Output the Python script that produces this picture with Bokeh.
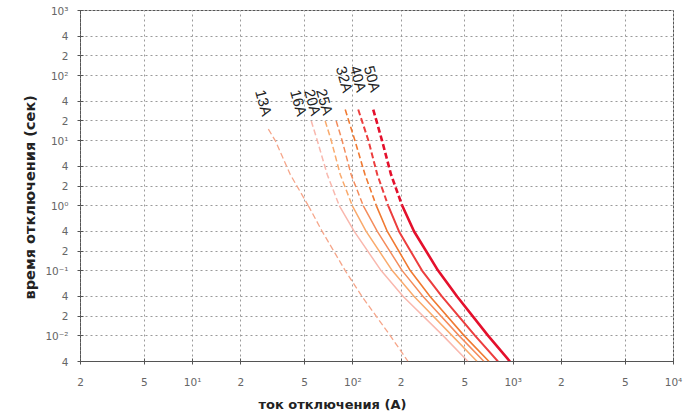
from bokeh.plotting import figure
from bokeh.models import FixedTicker, Range1d, Title
from bokeh.core.properties import value
from bokeh.embed import file_html
from bokeh.resources import INLINE

# ---- data ----
ratings = ["13A", "16A", "20A", "25A", "32A", "40A", "50A"]

t_13 = [15, 10, 3, 1, 0.4, 0.1, 0.04, 0.01, 0.004]
i_13 = [29.7, 32.8, 40.7, 52.7, 64.4, 89.6, 114, 171, 221]

t_mid = [20, 10, 3, 1, 0.4, 0.1, 0.04, 0.01, 0.004]
i_16 = [55, 60, 69.2, 82.2, 102, 150, 206, 365, 523]
i_20 = [67.2, 73.3, 83.4, 99.1, 121, 176, 241, 416, 596]
i_25 = [78.7, 85.7, 97.5, 116, 142, 203, 274, 459, 658]

t_top = [30, 10, 3, 1, 0.4, 0.1, 0.04, 0.01, 0.004]
i_32 = [89.6, 103, 119, 140, 164, 228, 303, 494, 707]
i_40 = [108, 125, 142, 166, 194, 270, 359, 578, 804]
i_50 = [134, 152, 173, 203, 241, 340, 447, 697, 955]

label_i = [26.5, 43.8, 53.5, 63.5, 84.4, 103, 126]
label_t = [60, 60, 61, 62, 138, 140, 140]

x_ticks = [2, 5, 10, 20, 50, 100, 200, 500, 1000, 2000, 5000, 10000]
x_labels = ["2", "5", "10¹", "2", "5", "10²", "2", "5", "10³", "2", "5", "10⁴"]
y_ticks = [0.004, 0.01, 0.02, 0.04, 0.1, 0.2, 0.4, 1, 2, 4, 10, 20, 40, 100, 200, 400, 1000]
y_labels = ["4", "10⁻²", "2", "4", "10⁻¹", "2", "4", "10⁰", "2", "4", "10¹", "2", "4",
            "10²", "2", "4", "10³"]

x_title = "ток отключения (A)"
y_title = "время отключения (сек)"

curves = [
    (t_13, i_13, "#f6a68a", 1.3),
    (t_mid, i_16, "#f9b8ae", 1.5),
    (t_mid, i_20, "#f9aa6c", 1.5),
    (t_mid, i_25, "#f48c5c", 1.5),
    (t_top, i_32, "#f07a32", 1.6),
    (t_top, i_40, "#ec3e3e", 2.0),
    (t_top, i_50, "#e4102c", 2.6),
]

p = figure(width=690, height=415, x_axis_type="log", y_axis_type="log",
           x_range=Range1d(2, 10000), y_range=Range1d(0.004, 1000),
           output_backend="svg", toolbar_location=None,
           min_border_left=80, min_border_right=17, min_border_top=10, min_border_bottom=53)
p.background_fill_color = "white"
p.border_fill_color = "white"
p.outline_line_color = "#555555"
p.outline_line_dash = "3 1"

xt = FixedTicker(ticks=x_ticks, minor_ticks=[])
yt = FixedTicker(ticks=y_ticks, minor_ticks=[])
p.xaxis.ticker = xt
p.yaxis.ticker = yt
p.xgrid.ticker = xt
p.ygrid.ticker = yt
p.xaxis.major_label_overrides = {k: v for k, v in zip(x_ticks, x_labels)}
p.yaxis.major_label_overrides = {k: v for k, v in zip(y_ticks, y_labels)}

for g in (p.xgrid, p.ygrid):
    g.grid_line_color = "#9a9a9a"
    g.grid_line_dash = "2 3"
    g.grid_line_width = 1

for ax in (p.xaxis, p.yaxis):
    ax.axis_line_color = "#555555"
    ax.axis_line_dash = "3 1"
    ax.major_tick_line_color = "#555555"
    ax.major_tick_in = 3
    ax.major_tick_out = 3
    ax.minor_tick_line_color = None
    ax.major_label_text_font = "DejaVu Sans"
    ax.major_label_text_font_size = "10.5px"
    ax.major_label_text_color = "#666666"

p.xaxis.major_label_standoff = 11
p.yaxis.major_label_standoff = 9

# axis titles, offset like in the reference
p.add_layout(Title(text=x_title, align="left", offset=178, standoff=8,
                   text_font="DejaVu Sans", text_font_style="bold",
                   text_font_size="13px", text_color="#222222"), "below")
p.add_layout(Title(text=y_title, align="left", offset=62, standoff=10,
                   text_font="DejaVu Sans", text_font_style="bold",
                   text_font_size="14.5px", text_color="#222222"), "left")

for ts, iss, col, w in curves:
    up_i = [a for a, b in zip(iss, ts) if b >= 1]
    up_t = [b for b in ts if b >= 1]
    lo_i = [a for a, b in zip(iss, ts) if b <= 1]
    lo_t = [b for b in ts if b <= 1]
    p.line(up_i, up_t, line_color=col, line_width=w, line_dash="6 3")
    if col == "#f6a68a":
        p.line(lo_i, lo_t, line_color=col, line_width=w, line_dash="6 3")
    else:
        p.line(lo_i, lo_t, line_color=col, line_width=w)

p.text(x=label_i, y=label_t, text=ratings, angle=-1.3,
       text_align="left", text_baseline="middle",
       text_font=value("Liberation Sans"), text_font_size="15px", text_color="#222222")

open("out.html", "w").write(file_html(p, INLINE))
